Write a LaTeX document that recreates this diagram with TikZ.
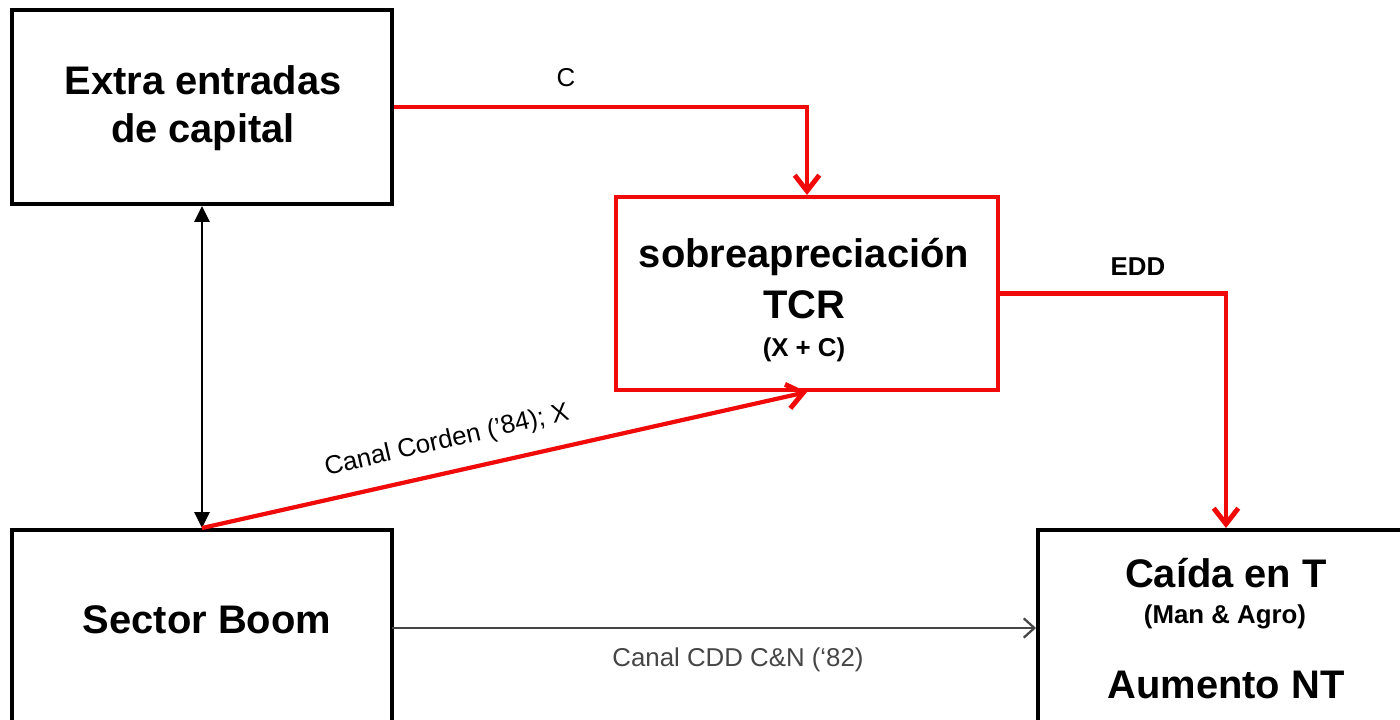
\documentclass[tikz,border=0pt]{standalone}
\usepackage{fontspec}
\setmainfont{Liberation Sans}
\usetikzlibrary{arrows.meta}
\definecolor{linkred}{RGB}{240,10,10}
\definecolor{linkgray}{RGB}{70,70,70}
\begin{document}
\begin{tikzpicture}[x=0.02cm,y=-0.02cm,
  boxframe/.style={draw=black, line width=2.3pt, inner sep=0pt},
  redframe/.style={boxframe, draw=linkred},
  bigtext/.style={font=\fontsize{22.7}{27.2}\selectfont\bfseries, align=center, inner sep=0pt},
  subtext/.style={font=\fontsize{14.7}{17}\selectfont\bfseries, inner sep=0pt},
  linktext/.style={font=\fontsize{14.7}{17}\selectfont, inner sep=0pt},
  redlink/.style={draw=linkred, line width=2.4pt,
    -{Straight Barb[length=9pt,width=14pt,line width=2.8pt]}},
  blacklink/.style={draw=black, line width=1.3pt,
    {Triangle[length=9pt,width=8.5pt]}-{Triangle[length=9pt,width=8.5pt]}},
  graylink/.style={draw=linkgray, line width=1.1pt,
    -{Straight Barb[length=6pt,width=11pt,line width=1.3pt]}}]
\clip (0,0) rectangle (1400,720);
\fill[white] (0,0) rectangle (1400,720);

% boxes
\node[boxframe, minimum width=7.6cm, minimum height=3.88cm] (capital) at (202,107) {};
\node[redframe, minimum width=7.64cm, minimum height=3.86cm] (tcr) at (807,293.5) {};
\node[boxframe, minimum width=7.6cm, minimum height=7.6cm] (boom) at (202,720) {};
\node[boxframe, minimum width=7.52cm, minimum height=8cm] (caida) at (1226,730) {};

% box texts
\node[bigtext] (capitaltxt) at (203,108) {Extra entradas\\de capital};
\node[bigtext] (tcrtxt1) at (804,257) {sobreapreciación};
\node[bigtext] (tcrtxt2) at (804,305) {TCR};
\node[subtext] (tcrtxt3) at (804,350) {(X + C)};
\node[bigtext] (boomtxt) at (207,620) {Sector Boom};
\node[bigtext] (caidatxt1) at (1226,573) {Caída en T};
\node[subtext] (caidatxt2) at (1225,617) {(Man \& Agro)};
\node[bigtext] (caidatxt3) at (1226,685) {Aumento NT};

% connectors
\draw[redlink] (capital.east) -| (tcr.north);
\node[linktext] (clabel) at (566,78) {C};
\draw[redlink] (tcr.east) -| (caida.north);
\node[linktext, font=\fontsize{14.7}{17}\selectfont\bfseries] (eddlabel) at (1138,267) {EDD};
\draw[blacklink] (capital.south) -- (boom.north);
\draw[redlink] (boom.north) -- (tcr.south);
\node[linktext, rotate=13] (cordenlabel) at (447,441) {Canal Corden (’84); X};
\coordinate (grayfrom) at (392,628);
\draw[graylink] (grayfrom) -- (grayfrom -| caida.west);
\node[linktext, text=linkgray] (cddlabel) at (738,660) {Canal CDD C\&N (‘82)};
\end{tikzpicture}
\end{document}
